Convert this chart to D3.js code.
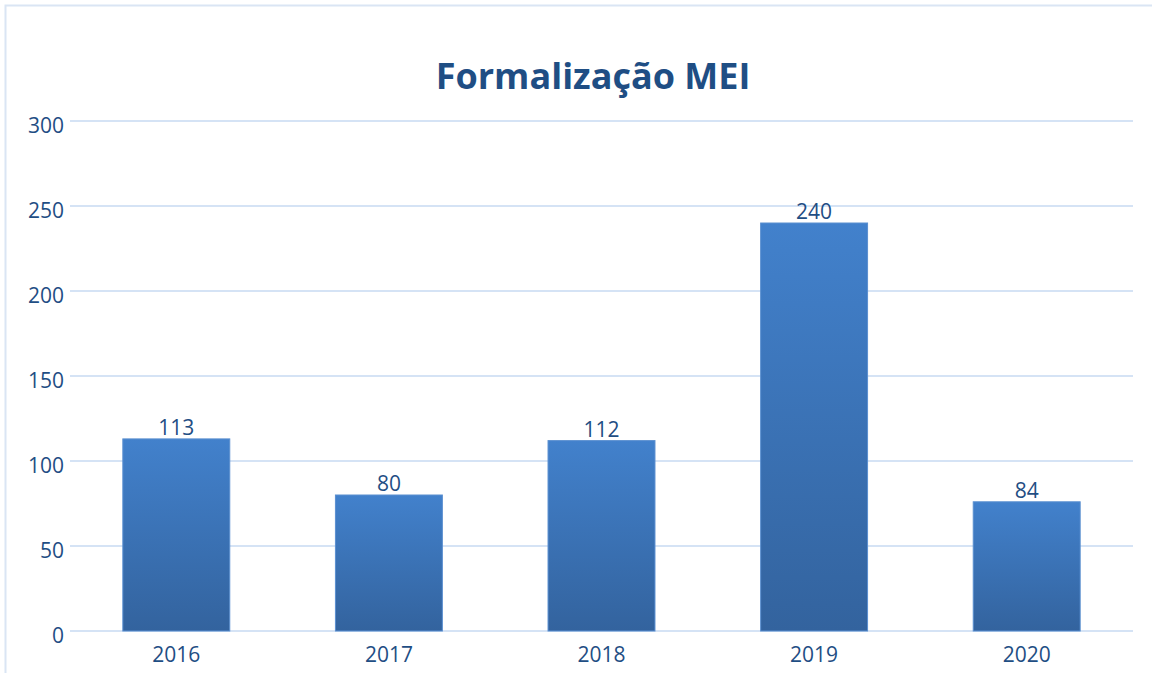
<!DOCTYPE html>
<html><head><meta charset="utf-8">
<script src="https://cdn.jsdelivr.net/npm/d3@7"></script>
<style>body{margin:0;background:#fff}svg{display:block}</style>
</head><body>
<svg id="c" width="1152" height="673"></svg>
<script>
const categories = ["2016","2017","2018","2019","2020"];
const values = [113, 80, 112, 240, 76];       // bar heights as drawn
const valueLabels = ["113","80","112","240","84"]; // labels as printed
const yTicks = [0, 50, 100, 150, 200, 250, 300];
const title = "Formalização MEI";

const svg = d3.select("#c");
const textColor = "#1f4e84";
const font = "'Open Sans', sans-serif";

// frame
svg.append("path").attr("d","M5.5,673 V5.5 H1152").attr("fill","none").attr("stroke","#dae5f4").attr("stroke-width",2);

const x = d3.scaleBand().domain(categories).range([70,1133]).paddingInner(0.497).paddingOuter(0.2485);
const y = d3.scaleLinear().domain([0,300]).range([631,121]);

const defs = svg.append("defs");
const g = defs.append("linearGradient").attr("id","bg").attr("x1",0).attr("y1",0).attr("x2",0).attr("y2",1);
g.append("stop").attr("offset","0%").attr("stop-color","#4281cc");
g.append("stop").attr("offset","100%").attr("stop-color","#33639e");

// grid
svg.append("g").selectAll("line").data(yTicks).join("line")
  .attr("x1",70).attr("x2",1133).attr("y1",d=>y(d)).attr("y2",d=>y(d))
  .attr("stroke","#d5e3f5").attr("stroke-width",2);

// y axis labels
const yAxis = d3.axisLeft(y).tickValues(yTicks).tickSize(0).tickPadding(0);
const ya = svg.append("g").attr("transform","translate(64,0)").call(yAxis);
ya.select(".domain").remove();
ya.selectAll("text").attr("fill",textColor).style("font-family",font).style("font-size","21px").attr("dy","0.55em");

// x axis labels
const xAxis = d3.axisBottom(x).tickSize(0).tickPadding(0);
const xa = svg.append("g").attr("transform","translate(0,647)").call(xAxis);
xa.select(".domain").remove();
xa.selectAll("text").attr("fill",textColor).style("font-family",font).style("font-size","21px").attr("dy","0.71em");

// bars
svg.append("g").selectAll("rect").data(values).join("rect")
  .attr("x",(d,i)=>x(categories[i])).attr("width",x.bandwidth())
  .attr("y",d=>y(d)).attr("height",d=>y(0)-y(d))
  .attr("fill","url(#bg)").attr("stroke","#5a8fd0").attr("stroke-width",1);

// value labels
svg.append("g").selectAll("text").data(values).join("text")
  .attr("x",(d,i)=>x(categories[i])+x.bandwidth()/2).attr("y",d=>y(d)-4)
  .attr("text-anchor","middle").attr("fill",textColor)
  .style("font-family",font).style("font-size","21px")
  .text((d,i)=>valueLabels[i]);

// title
svg.append("text").attr("x",593).attr("y",89).attr("text-anchor","middle")
  .attr("fill",textColor).style("font-family",font).style("font-size","36px").style("font-weight","bold")
  .text(title);
</script>
</body></html>
